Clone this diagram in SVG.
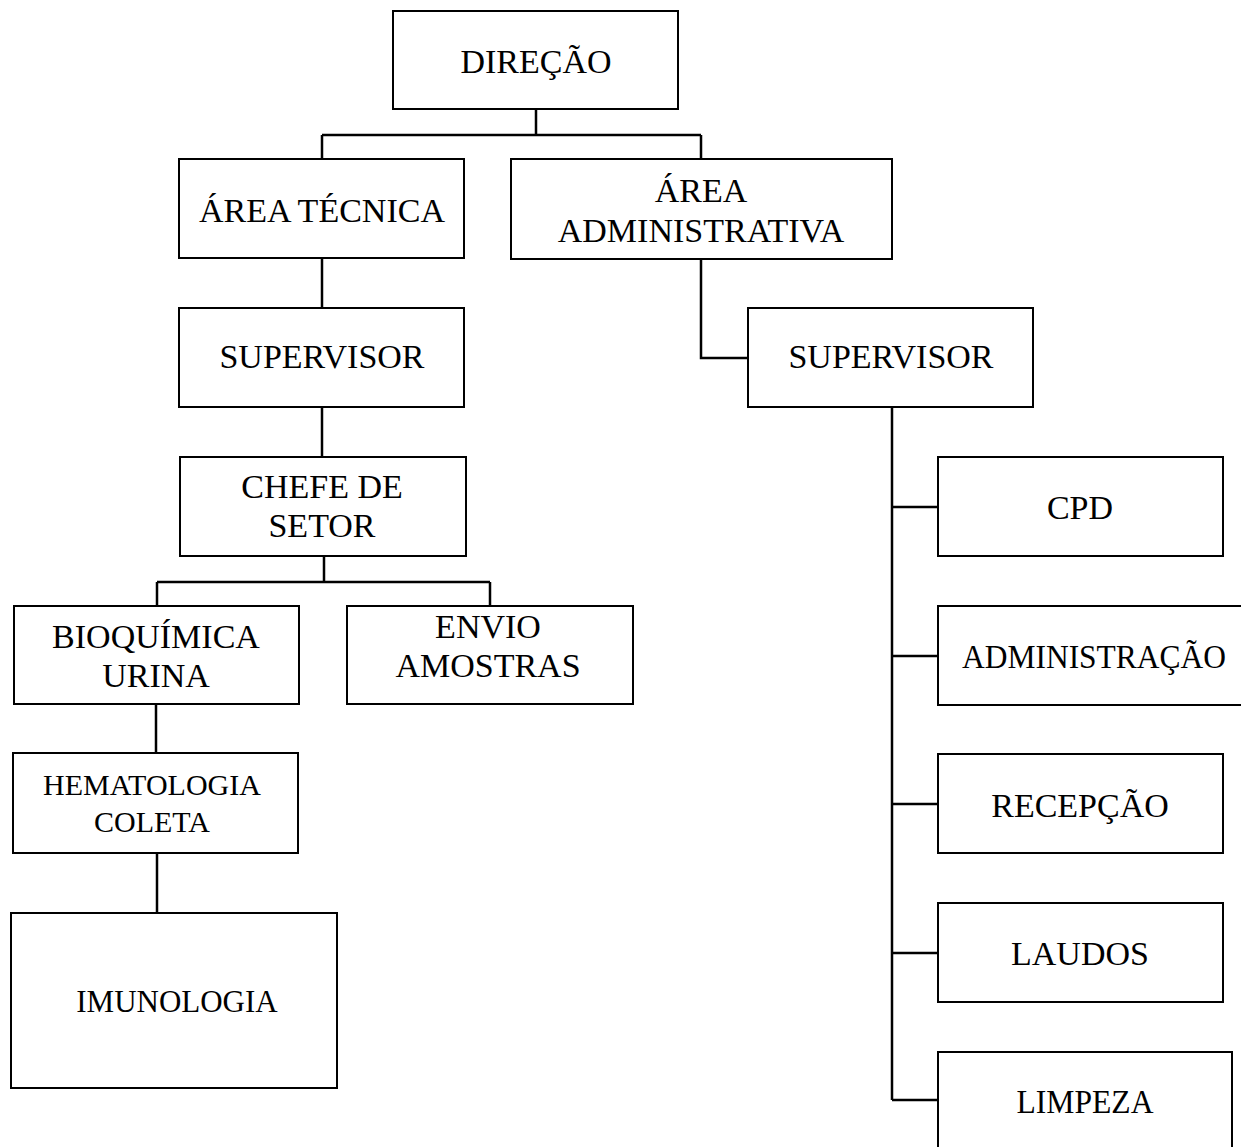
<svg xmlns="http://www.w3.org/2000/svg" width="1241" height="1147" viewBox="0 0 1241 1147">
<style>
.box{fill:#fff;stroke:#000;stroke-width:2}
.t{font-family:"Liberation Serif","Times New Roman",serif;font-size:34px;fill:#000;text-anchor:middle}
.c{fill:none;stroke:#000;stroke-width:2.5}
</style>
<rect width="1241" height="1147" fill="#fff"/>
<g id="connectors">
<path class="c" d="M536,109V135M322,135H701M322,135V159M701,135V159"/>
<path class="c" d="M322,258V308"/>
<path class="c" d="M701,259V358H748"/>
<path class="c" d="M322,407V457"/>
<path class="c" d="M324,556V582M157,582H490M157,582V606M490,582V606"/>
<path class="c" d="M156,704V753"/>
<path class="c" d="M157,853V913"/>
<path class="c" d="M892,407V1100M892,507H938M892,656H938M892,804H938M892,953H938M892,1100H938"/>
</g>
<g id="direcao"><rect class="box" x="393" y="11" width="285" height="98"/><text class="t" x="536" y="73">DIREÇÃO</text></g>
<g id="area-tecnica"><rect class="box" x="179" y="159" width="285" height="99"/><text class="t" x="322" y="222">ÁREA TÉCNICA</text></g>
<g id="area-administrativa"><rect class="box" x="511" y="159" width="381" height="100"/><text class="t" x="701" y="202">ÁREA</text><text class="t" x="701" y="242">ADMINISTRATIVA</text></g>
<g id="supervisor-tec"><rect class="box" x="179" y="308" width="285" height="99"/><text class="t" x="322" y="368">SUPERVISOR</text></g>
<g id="supervisor-adm"><rect class="box" x="748" y="308" width="285" height="99"/><text class="t" x="891" y="368">SUPERVISOR</text></g>
<g id="chefe-setor"><rect class="box" x="180" y="457" width="286" height="99"/><text class="t" x="322" y="498">CHEFE DE</text><text class="t" x="322" y="537">SETOR</text></g>
<g id="bioquimica"><rect class="box" x="14" y="606" width="285" height="98"/><text class="t" x="156" y="648">BIOQUÍMICA</text><text class="t" x="156" y="687">URINA</text></g>
<g id="envio"><rect class="box" x="347" y="606" width="286" height="98"/><text class="t" x="488" y="638">ENVIO</text><text class="t" x="488" y="677">AMOSTRAS</text></g>
<g id="hematologia"><rect class="box" x="13" y="753" width="285" height="100"/><text class="t" x="152" y="795" style="font-size:30px">HEMATOLOGIA</text><text class="t" x="152" y="832" style="font-size:30px">COLETA</text></g>
<g id="imunologia"><rect class="box" x="11" y="913" width="326" height="175"/><text class="t" x="177" y="1012" style="font-size:31px">IMUNOLOGIA</text></g>
<g id="cpd"><rect class="box" x="938" y="457" width="285" height="99"/><text class="t" x="1080" y="519">CPD</text></g>
<g id="administracao"><rect class="box" x="938" y="606" width="304" height="99"/><text class="t" x="1094" y="668" textLength="264" lengthAdjust="spacingAndGlyphs">ADMINISTRAÇÃO</text></g>
<g id="recepcao"><rect class="box" x="938" y="754" width="285" height="99"/><text class="t" x="1080" y="817">RECEPÇÃO</text></g>
<g id="laudos"><rect class="box" x="938" y="903" width="285" height="99"/><text class="t" x="1080" y="965">LAUDOS</text></g>
<g id="limpeza"><rect class="box" x="938" y="1052" width="294" height="110"/><text class="t" x="1085" y="1113" textLength="137" lengthAdjust="spacingAndGlyphs">LIMPEZA</text></g>
</svg>
